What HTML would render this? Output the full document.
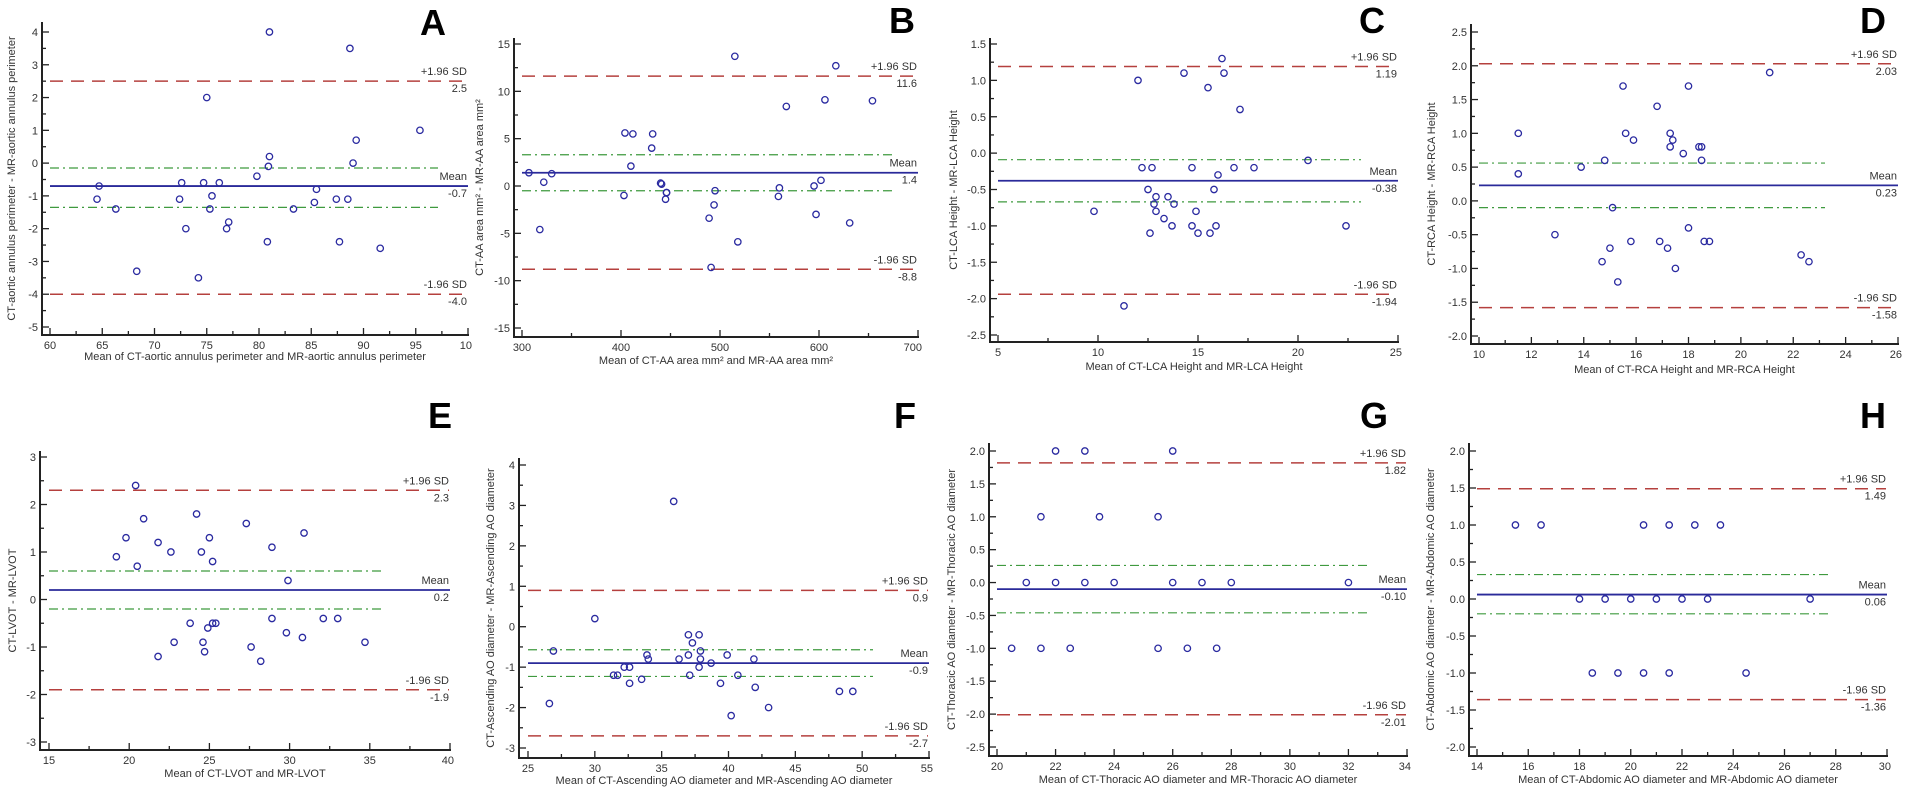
<!DOCTYPE html>
<html><head><meta charset="utf-8">
<style>
html,body{margin:0;padding:0;background:#fff;}
svg{display:block;font-family:"Liberation Sans",Arial,sans-serif;}
</style></head>
<body>
<svg id="fig" width="1905" height="794" viewBox="0 0 1905 794" xmlns="http://www.w3.org/2000/svg"></svg>
<script>
// ---- data arrays ----
const aX=[64.5,64.7,66.3,68.3,72.4,72.6,73,74.2,74.7,75,75.3,75.5,76.2,76.9,77.1,79.8,80.8,80.9,81,81,83.3,85.3,85.5,87.4,87.7,88.5,88.7,89,89.3,91.6,95.4];
const aY=[-1.1,-0.7,-1.4,-3.3,-1.1,-0.6,-2,-3.5,-0.6,2,-1.4,-1,-0.6,-2,-1.8,-0.4,-2.4,-0.1,0.2,4,-1.4,-1.2,-0.8,-1.1,-2.4,-1.1,3.5,0,0.7,-2.6,1];
const aLines=[2.5,-0.7,-4.0,-0.15,-1.35];
const aLabels=["2.5","-0.7","-4.0"];
const bX=[307,318,322,330,403,404,410,412,431,432,440,441,445,446,446,489,491,494,495,515,518,559,560,567,595,597,602,606,617,631,654];
const bY=[1.4,-4.6,0.4,1.3,-1,5.6,2.1,5.5,4,5.5,0.3,0.2,-1.4,-0.7,-0.7,-3.4,-8.6,-2,-0.5,13.7,-5.9,-1.1,-0.2,8.4,0,-3,0.6,9.1,12.7,-3.9,9];
const bLines=[11.6,1.4,-8.8,3.3,-0.5];
const bLabels=["11.6","1.4","-8.8"];
const cX=[9.8,11.3,12,12.2,12.5,12.6,12.7,12.8,12.9,12.9,13.3,13.5,13.7,13.8,14.3,14.7,14.7,14.9,15,15.5,15.6,15.8,15.9,16,16.2,16.3,16.8,17.1,17.8,20.5,22.4];
const cY=[-0.8,-2.1,1,-0.2,-0.5,-1.1,-0.2,-0.7,-0.6,-0.8,-0.9,-0.6,-1,-0.7,1.1,-0.2,-1,-0.8,-1.1,0.9,-1.1,-0.5,-1,-0.3,1.3,1.1,-0.2,0.6,-0.2,-0.1,-1];
const cLines=[1.19,-0.38,-1.94,-0.09,-0.67];
const cLabels=["1.19","-0.38","-1.94"];
const dX=[11.5,11.5,12.9,13.9,14.7,14.8,15,15.1,15.3,15.5,15.6,15.8,15.9,16.8,16.9,17.2,17.3,17.3,17.4,17.5,17.8,18,18,18.4,18.5,18.5,18.6,18.8,21.1,22.3,22.6];
const dY=[1,0.4,-0.5,0.5,-0.9,0.6,-0.7,-0.1,-1.2,1.7,1,-0.6,0.9,1.4,-0.6,-0.7,1,0.8,0.9,-1,0.7,-0.4,1.7,0.8,0.8,0.6,-0.6,-0.6,1.9,-0.8,-0.9];
const dLines=[2.03,0.23,-1.58,0.56,-0.1];
const dLabels=["2.03","0.23","-1.58"];
const eX=[19.2,19.8,20.4,20.5,20.9,21.8,21.8,22.6,22.8,23.8,24.2,24.5,24.6,24.7,24.9,25,25.2,25.2,25.4,27.3,27.6,28.2,28.9,28.9,29.8,29.9,30.8,30.9,32.1,33,34.7];
const eY=[0.9,1.3,2.4,0.7,1.7,1.2,-1.2,1,-0.9,-0.5,1.8,1,-0.9,-1.1,-0.6,1.3,0.8,-0.5,-0.5,1.6,-1,-1.3,1.1,-0.4,-0.7,0.4,-0.8,1.4,-0.4,-0.4,-0.9];
const eLines=[2.3,0.2,-1.9,0.6,-0.2];
const eLabels=["2.3","0.2","-1.9"];
const fX=[26.6,26.9,30,31.4,31.7,32.2,32.6,32.6,33.5,33.9,34,35.9,36.3,37,37,37.1,37.3,37.8,37.8,37.9,37.9,38.7,39.4,39.9,40.2,40.7,41.9,42,43,48.3,49.3];
const fY=[-1.9,-0.6,0.2,-1.2,-1.2,-1,-1,-1.4,-1.3,-0.7,-0.8,3.1,-0.8,-0.7,-0.2,-1.2,-0.4,-1,-0.2,-0.6,-0.8,-0.9,-1.4,-0.7,-2.2,-1.2,-0.8,-1.5,-2,-1.6,-1.6];
const fLines=[0.9,-0.9,-2.7,-0.57,-1.23];
const fLabels=["0.9","-0.9","-2.7"];
const gX=[20.5,21,21.5,21.5,22,22,22.5,23,23,23.5,24,25.5,25.5,26,26,26.5,27,27.5,28,32];
const gY=[-1,0,1,-1,2,0,-1,2,0,1,0,1,-1,2,0,-1,0,-1,0,0];
const gLines=[1.82,-0.10,-2.01,0.26,-0.46];
const gLabels=["1.82","-0.10","-2.01"];
const hX=[15.5,16.5,18,18.5,19,19.5,20,20.5,20.5,21,21.5,21.5,22,22.5,23,23.5,24.5,27];
const hY=[1,1,0,-1,0,-1,0,1,-1,0,1,-1,0,1,0,1,-1,0];
const hLines=[1.49,0.06,-1.36,0.33,-0.2];
const hLabels=["1.49","0.06","-1.36"];
// axis ranges [min,max,major,minor]
const aXr=[60,100,5,2.5], aYr=[-5,4,1,0.5];
const bXr=[300,700,100,50], bYr=[-15,15,5,2.5];
const cXr=[5,25,5,2.5], cYr=[-2.5,1.5,0.5,0.25];
const dXr=[10,26,2,1], dYr=[-2,2.5,0.5,0.25];
const eXr=[15,40,5,2.5], eYr=[-3,3,1,0.5];
const fXr=[25,55,5,2.5], fYr=[-3,4,1,0.5];
const gXr=[20,34,2,1], gYr=[-2.5,2,0.5,0.25];
const hXr=[14,30,2,1], hYr=[-2,2,0.5,0.25];

const NS="http://www.w3.org/2000/svg";
const svg=document.getElementById('fig');
function mk(tag,attrs,parent,txt){const e=document.createElementNS(NS,tag);for(const k in attrs)e.setAttribute(k,attrs[k]);if(txt!==undefined)e.textContent=txt;parent.appendChild(e);return e;}
function dec(step){const s=String(step);return s.indexOf('.')<0?0:s.split('.')[1].length;}

const panels=[
 {id:'a',L:'A',X:aX,Y:aY,ln:aLines,lb:aLabels,xr:aXr,yr:aYr,axL:42,top:22,bot:335,x0:50,x1:468,yT:32,yB:327,gEnd:438,lx:420,ly:35,ytx:15,xty:360,xt:"Mean of CT-aortic annulus perimeter and MR-aortic annulus perimeter",yt:"CT-aortic annulus perimeter - MR-aortic annulus perimeter",clipLast:true},
 {id:'b',L:'B',X:bX,Y:bY,ln:bLines,lb:bLabels,xr:bXr,yr:bYr,axL:514,top:38,bot:337,x0:522,x1:918,yT:44,yB:328,gEnd:894,lx:889,ly:33,ytx:483,xty:364,xt:"Mean of CT-AA area mm² and MR-AA area mm²",yt:"CT-AA area mm² - MR-AA area mm²"},
 {id:'c',L:'C',X:cX,Y:cY,ln:cLines,lb:cLabels,xr:cXr,yr:cYr,axL:990,top:38,bot:342,x0:998,x1:1398,yT:44,yB:335,gEnd:1361,lx:1359,ly:33,ytx:957,xty:370,xt:"Mean of CT-LCA Height and MR-LCA Height",yt:"CT-LCA Height - MR-LCA Height"},
 {id:'d',L:'D',X:dX,Y:dY,ln:dLines,lb:dLabels,xr:dXr,yr:dYr,axL:1471,top:24,bot:344,x0:1479,x1:1898,yT:32,yB:336,gEnd:1825,lx:1860,ly:33,ytx:1435,xty:373,xt:"Mean of CT-RCA Height and MR-RCA Height",yt:"CT-RCA Height - MR-RCA Height"},
 {id:'e',L:'E',X:eX,Y:eY,ln:eLines,lb:eLabels,xr:eXr,yr:eYr,axL:40,top:451,bot:750,x0:49,x1:450,yT:457,yB:742,gEnd:382,lx:428,ly:428,ytx:16,xty:777,xt:"Mean of CT-LVOT and MR-LVOT",yt:"CT-LVOT - MR-LVOT"},
 {id:'f',L:'F',X:fX,Y:fY,ln:fLines,lb:fLabels,xr:fXr,yr:fYr,axL:519,top:458,bot:758,x0:528,x1:929,yT:465,yB:748,gEnd:873,lx:894,ly:428,ytx:494,xty:784,xt:"Mean of CT-Ascending AO diameter and MR-Ascending AO diameter",yt:"CT-Ascending AO diameter - MR-Ascending AO diameter"},
 {id:'g',L:'G',X:gX,Y:gY,ln:gLines,lb:gLabels,xr:gXr,yr:gYr,axL:989,top:443,bot:756,x0:997,x1:1407,yT:451,yB:747,gEnd:1369,lx:1360,ly:428,ytx:955,xty:783,xt:"Mean of CT-Thoracic AO diameter and MR-Thoracic AO diameter",yt:"CT-Thoracic AO diameter - MR-Thoracic AO diameter"},
 {id:'h',L:'H',X:hX,Y:hY,ln:hLines,lb:hLabels,xr:hXr,yr:hYr,axL:1469,top:443,bot:756,x0:1477,x1:1887,yT:451,yB:747,gEnd:1828,lx:1860,ly:428,ytx:1434,xty:783,xt:"Mean of CT-Abdomic AO diameter and MR-Abdomic AO diameter",yt:"CT-Abdomic AO diameter - MR-Abdomic AO diameter"}
];

panels.forEach(p=>{
  const g=mk('g',{},svg);
  
  
  const sx=v=>p.x0+(v-p.xr[0])/(p.xr[1]-p.xr[0])*(p.x1-p.x0);
  const sy=v=>p.yB-(v-p.yr[0])/(p.yr[1]-p.yr[0])*(p.yB-p.yT);
  // letter
  const lt=mk('text',{x:p.lx,y:p.ly,'font-size':36,'font-weight':'bold',fill:'#000'},g,p.L);
  
  
  // axes
  const ya=mk('line',{x1:p.axL,y1:p.top,x2:p.axL,y2:p.bot,stroke:'#222','stroke-width':2},g);
  
  
  const xa=mk('line',{x1:p.axL-1,y1:p.bot,x2:p.x1+1,y2:p.bot,stroke:'#222','stroke-width':2},g);
  
  
  // y ticks
  const yd=dec(p.yr[2]);
  const nMinY=Math.round((p.yr[1]-p.yr[0])/p.yr[3]);
  for(let i=0;i<=nMinY;i++){
    const v=p.yr[0]+i*p.yr[3];const major=i%Math.round(p.yr[2]/p.yr[3])===0;
    mk('line',{x1:p.axL,y1:sy(v),x2:p.axL+(major?7:4),y2:sy(v),stroke:'#222','stroke-width':1.3},g);
    if(major){const t=mk('text',{x:p.axL-4,y:sy(v)+4,'font-size':11,fill:'#333','text-anchor':'end'},g,v.toFixed(yd));
      
      }
  }
  // x ticks
  const xd=dec(p.xr[2]);
  const nMinX=Math.round((p.xr[1]-p.xr[0])/p.xr[3]);
  for(let i=0;i<=nMinX;i++){
    const v=p.xr[0]+i*p.xr[3];const major=i%Math.round(p.xr[2]/p.xr[3])===0;
    mk('line',{x1:sx(v),y1:p.bot,x2:sx(v),y2:p.bot-(major?7:4),stroke:'#222','stroke-width':1.3},g);
    if(major){let s=v.toFixed(xd);if(i===nMinX&&p.clipLast)s=s.slice(0,2);
      const last=i===nMinX;
      const t=mk('text',{x:last?sx(v)+4:sx(v),y:p.bot+14,'font-size':11,fill:'#333','text-anchor':last?'end':'middle'},g,s);
      
      }
  }
  // titles
  const xt=mk('text',{x:(p.axL+p.x1)/2,y:p.xty,'font-size':11,fill:'#333','text-anchor':'middle'},g,p.xt);
  
  
  const ym=(p.top+p.bot)/2;
  const yt=mk('text',{x:p.ytx,y:ym,'font-size':11,fill:'#333','text-anchor':'middle',transform:`rotate(-90 ${p.ytx} ${ym})`},g,p.yt);
  
  
  // reference lines
  const up=p.ln[0],mean=p.ln[1],lo=p.ln[2],g1=p.ln[3],g2=p.ln[4];
  const l1=mk('line',{x1:p.x0,y1:sy(up),x2:p.x1-1,y2:sy(up),stroke:'#b5403e','stroke-width':1.5,'stroke-dasharray':'13 8'},g);
  
  
  const l2=mk('line',{x1:p.x0,y1:sy(lo),x2:p.x1-1,y2:sy(lo),stroke:'#b5403e','stroke-width':1.5,'stroke-dasharray':'13 8'},g);
  
  
  [g1,g2].forEach(v=>{const l=mk('line',{x1:p.x0,y1:sy(v),x2:p.gEnd,y2:sy(v),stroke:'#3f9a3f','stroke-width':1.2,'stroke-dasharray':'9 4 2 4'},g);
    
    });
  const lm=mk('line',{x1:p.x0,y1:sy(mean),x2:p.x1,y2:sy(mean),stroke:'#2a2a9a','stroke-width':1.8},g);
  
  
  const lab=(y,s,nm)=>{const t=mk('text',{x:p.x1-1,y:y,'font-size':11,fill:'#333','text-anchor':'end'},g,s);
    
    };
  lab(sy(up)-6,'+1.96 SD','upper-loa-label');lab(sy(up)+11,p.lb[0],'upper-loa-value');
  lab(sy(mean)-6,'Mean','mean-label');lab(sy(mean)+11,p.lb[1],'mean-value');
  lab(sy(lo)-6,'-1.96 SD','lower-loa-label');lab(sy(lo)+11,p.lb[2],'lower-loa-value');
  // points
  p.X.forEach((x,i)=>{const c=mk('circle',{cx:sx(x),cy:sy(p.Y[i]),r:3.2,fill:'none',stroke:'#2a2aa0','stroke-width':1.3},g);
    
    });
});
</script>
</body></html>
